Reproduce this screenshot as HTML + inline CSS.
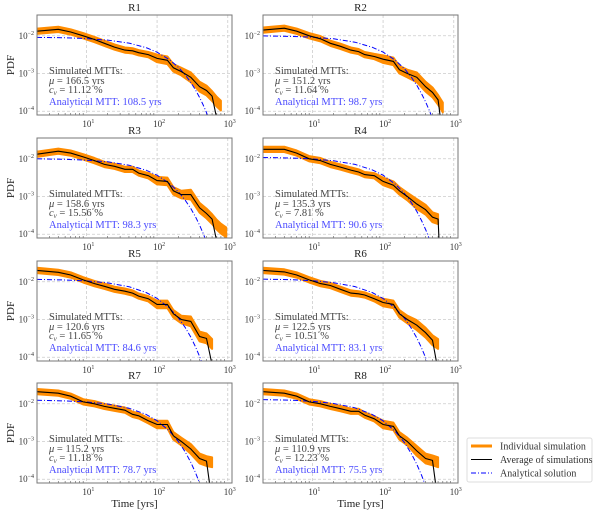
<!DOCTYPE html>
<html><head><meta charset="utf-8"><style>
body{margin:0;background:#fff;}
svg{display:block;font-family:"Liberation Serif",serif;}
</style></head><body>
<svg id="fig" width="600" height="512" viewBox="0 0 600 512" xmlns="http://www.w3.org/2000/svg"></svg>
<script>
const panelNames = ["R1","R2","R3","R4","R5","R6","R7","R8"];
const simMu = ["166.5","151.2","158.6","135.3","120.6","122.5","115.2","110.9"];
const simCv = ["11.12","11.64","15.56","7.81","11.65","10.51","11.18","12.23"];
const analyticalMTT = ["108.5","98.7","98.3","90.6","84.6","83.1","78.7","75.5"];
const simTimes = [2,4,6,9,13,18,25,35,45,55,75,100,140,170,220,300,400,500,600,700,800,950];
const simR1 = [-1.88,-1.83,-1.9,-2.0,-2.1,-2.2,-2.3,-2.38,-2.4,-2.45,-2.5,-2.6,-2.65,-2.85,-2.95,-3.1,-3.35,-3.45,-3.6,-3.75,-3.85];
const simR2 = [-1.85,-1.8,-1.88,-2.0,-2.08,-2.2,-2.28,-2.38,-2.42,-2.5,-2.55,-2.62,-2.68,-2.9,-3.0,-3.1,-3.35,-3.5,-3.7,-3.9];
const simR3 = [-1.88,-1.8,-1.85,-1.95,-2.05,-2.15,-2.2,-2.28,-2.28,-2.38,-2.45,-2.58,-2.6,-2.85,-2.95,-2.95,-3.3,-3.45,-3.6,-3.75,-3.85,-3.95];
const simR4 = [-1.75,-1.75,-1.85,-2.0,-2.05,-2.15,-2.22,-2.3,-2.35,-2.42,-2.45,-2.6,-2.7,-2.85,-3.0,-3.2,-3.35,-3.55,-3.6];
const simR5 = [-1.7,-1.75,-1.82,-1.95,-2.05,-2.12,-2.2,-2.25,-2.3,-2.38,-2.45,-2.6,-2.6,-2.85,-3.0,-3.05,-3.45,-3.5,-3.65];
const simR6 = [-1.7,-1.74,-1.82,-1.95,-2.05,-2.1,-2.2,-2.3,-2.32,-2.35,-2.45,-2.55,-2.6,-2.85,-3.0,-3.15,-3.35,-3.55,-3.65];
const simR7 = [-1.68,-1.72,-1.8,-1.95,-2.0,-2.07,-2.12,-2.17,-2.28,-2.32,-2.45,-2.55,-2.55,-2.85,-3.0,-3.2,-3.45,-3.52,-3.55];
const simR8 = [-1.68,-1.72,-1.8,-1.95,-2.0,-2.07,-2.13,-2.2,-2.2,-2.3,-2.4,-2.55,-2.6,-2.85,-3.0,-3.25,-3.45,-3.5,-3.55];
const simSeries = [simR1,simR2,simR3,simR4,simR5,simR6,simR7,simR8];
const avgEndTime = [700,650,700,620,600,580,560,560];
const avgEndValue = [-4.2,-4.2,-4.2,-4.2,-4.2,-4.2,-4.2,-4.2];
const anaTimes = [2,5,10,20,40,70,100,150,200,250,300,350,400,450,500,550,600];
const anaR1 = [-2.043,-2.055,-2.075,-2.115,-2.195,-2.315,-2.435,-2.635,-2.836,-3.036,-3.236,-3.436,-3.636,-3.836,-4.036,-4.237,-4.44];
const anaR2 = [-2.003,-2.016,-2.038,-2.082,-2.170,-2.302,-2.434,-2.654,-2.874,-3.094,-3.314,-3.534,-3.754,-3.974,-4.194,-4.414];
const anaR3 = [-2.002,-2.015,-2.037,-2.081,-2.170,-2.302,-2.435,-2.656,-2.877,-3.098,-3.318,-3.539,-3.760,-3.981,-4.202,-4.423];
const anaR4 = [-1.967,-1.981,-2.005,-2.053,-2.149,-2.293,-2.436,-2.676,-2.916,-3.156,-3.395,-3.635,-3.875,-4.114,-4.354];
const anaR5 = [-1.937,-1.953,-1.978,-2.030,-2.132,-2.286,-2.440,-2.697,-2.954,-3.211,-3.467,-3.724,-3.981,-4.237];
const anaR6 = [-1.930,-1.946,-1.972,-2.025,-2.129,-2.286,-2.443,-2.704,-2.965,-3.227,-3.488,-3.749,-4.010,-4.272];
const anaR7 = [-1.907,-1.924,-1.951,-2.006,-2.117,-2.282,-2.448,-2.724,-3.000,-3.276,-3.551,-3.827,-4.103,-4.379];
const anaR8 = [-1.890,-1.907,-1.936,-1.993,-2.108,-2.281,-2.453,-2.741,-3.028,-3.316,-3.604,-3.891,-4.179];
const anaSeries = [anaR1,anaR2,anaR3,anaR4,anaR5,anaR6,anaR7,anaR8];
const xTickExp = [1,2,3];
const yTickExp = [-2,-3,-4];

const NS="http://www.w3.org/2000/svg";
const svg=document.getElementById('fig');
const lefts=[37,263], tops=[15,138,261,383], W=195, H=100;
const XMIN=Math.log10(2), XMAX=3.06, YMIN=-4.1, YMAX=-1.45;
function mk(tag,attrs,parent){const e=document.createElementNS(NS,tag);for(const k in attrs)e.setAttribute(k,attrs[k]);(parent||svg).appendChild(e);return e;}
function bandHalf(t){return t<100?0.07:(t<300?0.1:0.13);}

panelNames.forEach((name,i)=>{
  const x0=lefts[i%2], y0=tops[Math.floor(i/2)];
  const sx=t=>x0+(Math.log10(t)-XMIN)/(XMAX-XMIN)*W;
  const sy=v=>y0+(YMAX-v)/(YMAX-YMIN)*H;
  const g=mk('g',{});
  
  
  const cp=mk('clipPath',{id:'cp'+i},g);mk('rect',{x:x0,y:y0,width:W,height:H},cp);
  xTickExp.forEach(e=>{const x=sx(Math.pow(10,e));if(x<x0+W){mk('line',{x1:x,x2:x,y1:y0,y2:y0+H,stroke:'#ccc','stroke-width':0.8,'stroke-dasharray':'3,2'},g);}
    const tl=mk('text',{x:x+2,y:y0+H+12,'font-size':9,fill:'#333','text-anchor':'middle'},g);tl.innerHTML='10<tspan dy="-4" font-size="6">'+e+'</tspan>';
    
    
    for(let m=2;m<10;m++){const xm=sx(m*Math.pow(10,e-1));if(xm>x0&&xm<x0+W)mk('line',{x1:xm,x2:xm,y1:y0+H,y2:y0+H-2,stroke:'#555','stroke-width':0.6},g);}
  });
  yTickExp.forEach(e=>{const y=sy(e);mk('line',{x1:x0,x2:x0+W,y1:y,y2:y,stroke:'#ccc','stroke-width':0.8,'stroke-dasharray':'3,2'},g);
    const tl=mk('text',{x:x0-3,y:y+3,'font-size':9,fill:'#333','text-anchor':'end'},g);tl.innerHTML='10<tspan dy="-4" font-size="6">'+(e).toString().replace('-','−')+'</tspan>';
    
    
  });
  const cg=mk('g',{'clip-path':'url(#cp'+i+')'},g);
  const sim=simSeries[i];
  const up=sim.map((v,k)=>sx(simTimes[k]).toFixed(1)+','+sy(v+bandHalf(simTimes[k])).toFixed(1));
  const dn=sim.map((v,k)=>sx(simTimes[k]).toFixed(1)+','+sy(v-bandHalf(simTimes[k])).toFixed(1)).reverse();
  const band=mk('polygon',{points:up.concat(dn).join(' '),fill:'#ff8c00',stroke:'#ff8c00','stroke-width':2,'stroke-linejoin':'round'},cg);
  
  
  const ana=anaSeries[i];
  const ap=mk('polyline',{points:ana.map((v,k)=>sx(anaTimes[k]).toFixed(1)+','+sy(v).toFixed(1)).join(' '),fill:'none',stroke:'#0000ff','stroke-width':1,'stroke-dasharray':'5,2,1,2'},cg);
  
  
  const avgPts=[];sim.forEach((v,k)=>{if(simTimes[k]<avgEndTime[i])avgPts.push(sx(simTimes[k]).toFixed(1)+','+sy(v).toFixed(1));});
  avgPts.push(sx(avgEndTime[i]).toFixed(1)+','+sy(avgEndValue[i]).toFixed(1));
  const bp=mk('polyline',{points:avgPts.join(' '),fill:'none',stroke:'#000','stroke-width':1.1},cg);
  
  
  const fr=mk('rect',{x:x0,y:y0,width:W,height:H,fill:'none',stroke:'#777','stroke-width':1},g);
  
  
  const tt=mk('text',{x:x0+W/2,y:y0-4,'font-size':11,fill:'#222','text-anchor':'middle'},g);tt.textContent=name;
  
  
  const tx=x0+12;
  const a1=mk('text',{x:tx,y:y0+59,'font-size':10.5,fill:'#444'},g);a1.textContent='Simulated MTTs:';
  
  
  const a2=mk('text',{x:tx,y:y0+69,'font-size':10.5,fill:'#444'},g);a2.innerHTML='<tspan font-style="italic">μ</tspan> = '+simMu[i]+' yrs';
  
  
  const a3=mk('text',{x:tx,y:y0+78,'font-size':10.5,fill:'#444'},g);a3.innerHTML='<tspan font-style="italic">c</tspan><tspan font-size="7" dy="2" font-style="italic">v</tspan><tspan dy="-2"> = '+simCv[i]+' %</tspan>';
  
  
  const a4=mk('text',{x:tx,y:y0+90,'font-size':10.5,fill:'#4a4aff'},g);a4.textContent='Analytical MTT: '+analyticalMTT[i]+' yrs';
  
  
  if(i%2===0){const yl=mk('text',{x:0,y:0,'font-size':11,fill:'#222','text-anchor':'middle',transform:'translate(14,'+(y0+H/2)+') rotate(-90)'},g);yl.textContent='PDF';
    
    }
  if(i>=6){const xl=mk('text',{x:x0+W/2,y:507,'font-size':11,fill:'#222','text-anchor':'middle'},g);xl.textContent='Time [yrs]';
    
    }
});
const lg=mk('g',{});


mk('rect',{x:467,y:438,width:125,height:44,fill:'#fff',stroke:'#ddd','stroke-width':1,rx:2},lg);
const items=[['Individual simulation','#ff8c00',3,''],['Average of simulations','#000',1.1,''],['Analytical solution','#0000ff',1,'5,2,1,2']];
items.forEach((it,k)=>{const y=446+k*13.5;
  const e=mk('g',{},lg);
  
  
  mk('line',{x1:471,x2:492,y1:y,y2:y,stroke:it[1],'stroke-width':it[2],'stroke-dasharray':it[3]},e);
  const t=mk('text',{x:500,y:y+3.5,'font-size':10,fill:'#333'},e);t.textContent=it[0];
});
</script>
</body></html>
